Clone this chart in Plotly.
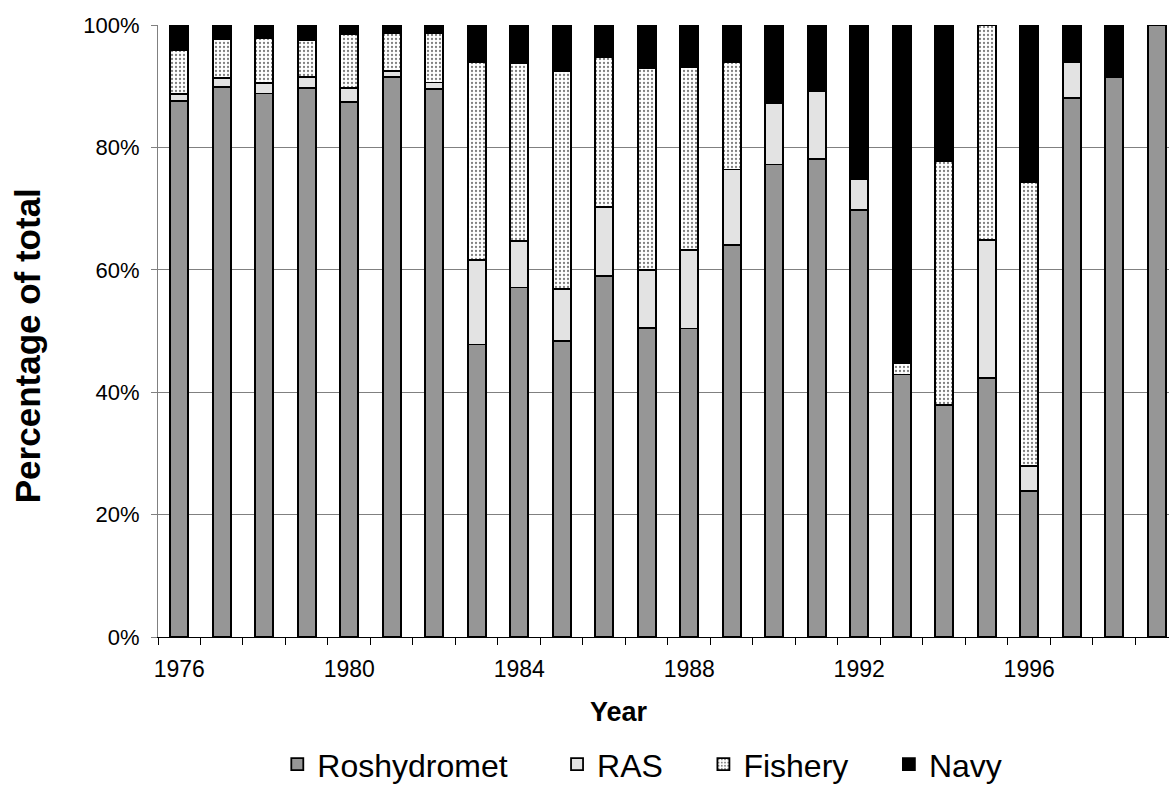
import plotly.graph_objects as go

years = [1976, 1977, 1978, 1979, 1980, 1981, 1982, 1983, 1984, 1985, 1986, 1987,
         1988, 1989, 1990, 1991, 1992, 1993, 1994, 1995, 1996, 1997, 1998, 1999]

roshydromet = [87.6, 89.9, 88.8, 89.7, 87.4, 91.5, 89.5, 47.8, 57.1, 48.4, 59.0, 50.5,
               50.4, 64.0, 77.2, 78.1, 69.8, 42.9, 37.9, 42.3, 23.9, 88.1, 91.5, 100.0]
ras = [1.1, 1.4, 1.7, 1.8, 2.3, 1.0, 1.1, 13.8, 7.6, 8.4, 11.2, 9.5,
       12.9, 12.4, 10.1, 11.1, 5.0, 0.0, 0.0, 22.6, 4.0, 5.8, 0.0, 0.0]
fishery = [7.2, 6.4, 7.3, 6.0, 8.8, 6.2, 8.0, 32.4, 29.0, 35.7, 24.5, 32.9,
           29.9, 17.6, 0.0, 0.0, 0.0, 1.9, 39.8, 35.1, 46.5, 0.0, 0.0, 0.0]
navy = [4.1, 2.3, 2.2, 2.5, 1.5, 1.3, 1.4, 6.0, 6.3, 7.5, 5.3, 7.1,
        6.8, 6.0, 12.7, 10.8, 25.2, 55.2, 22.3, 0.0, 25.6, 6.1, 8.5, 0.0]

series_names = ["Roshydromet", "RAS", "Fishery", "Navy"]
label_years = [1976, 1980, 1984, 1988, 1992, 1996]
y_ticks = [0, 20, 40, 60, 80, 100]

FONT = "Liberation Sans, Arial, sans-serif"
NB = "\u00a0"
line = dict(color="black", width=1.8)

fig = go.Figure()
fig.add_trace(go.Bar(x=years, y=roshydromet, name=series_names[0] + NB * 5,
                     marker=dict(color="#969696", line=line)))
fig.add_trace(go.Bar(x=years, y=ras, name=series_names[1] + NB * 4,
                     marker=dict(color="#e3e3e3", line=line)))
fig.add_trace(go.Bar(x=years, y=fishery, name=series_names[2] + NB * 4,
                     marker=dict(color="white", line=line,
                                 pattern=dict(shape=".", fgcolor="black", bgcolor="white",
                                              size=4, solidity=0.25))))
fig.add_trace(go.Bar(x=years, y=navy, name=series_names[3],
                     marker=dict(color="black", line=line)))

minor_vals = [y - 0.5 for y in years]

fig.update_layout(
    width=1169, height=786,
    barmode="stack", bargap=0.58,
    plot_bgcolor="white", paper_bgcolor="white",
    margin=dict(l=158, r=0, t=25, b=148.5, autoexpand=False),
    font=dict(family=FONT, color="black"),
    showlegend=True,
    legend=dict(orientation="h", traceorder="normal", x=0.118, xanchor="left",
                y=-0.2082, yanchor="middle", font=dict(size=32, family=FONT),
                bgcolor="rgba(0,0,0,0)"),
    xaxis=dict(range=[years[0] - 0.5, years[-1] + 0.29], tickmode="array",
               tickvals=label_years, ticktext=[str(v) for v in label_years],
               ticks="", showgrid=False, showline=True, linecolor="black", linewidth=1,
               tickfont=dict(size=23, family=FONT), ticklabelstandoff=11,
               minor=dict(tickmode="array", tickvals=minor_vals, ticks="outside",
                          ticklen=7, tickcolor="black", showgrid=False),
               zeroline=False, fixedrange=True, automargin=False),
    yaxis=dict(range=[0, 100], tickmode="array", tickvals=y_ticks,
               ticktext=[f"{v}%" for v in y_ticks], ticks="outside", ticklen=6,
               tickcolor="#808080", showgrid=True, gridcolor="#808080", gridwidth=1,
               showline=True, linecolor="#808080", linewidth=1, zeroline=False,
               tickfont=dict(size=22, family=FONT), ticklabelstandoff=7,
               automargin=False, fixedrange=True),
    annotations=[
        dict(text="<b>Year</b>", xref="paper", yref="paper", x=0.456, y=-0.1233,
             xanchor="center", yanchor="middle", showarrow=False,
             font=dict(size=27, family=FONT)),
        dict(text="<b>Percentage of total</b>", xref="paper", yref="paper",
             x=-0.1296, y=0.4767, xanchor="center", yanchor="middle", textangle=-90,
             showarrow=False, font=dict(size=35, family=FONT)),
    ],
)

fig.write_html("out.html", config={"displayModeBar": False},
               post_script="document.body.style.margin='0';")
